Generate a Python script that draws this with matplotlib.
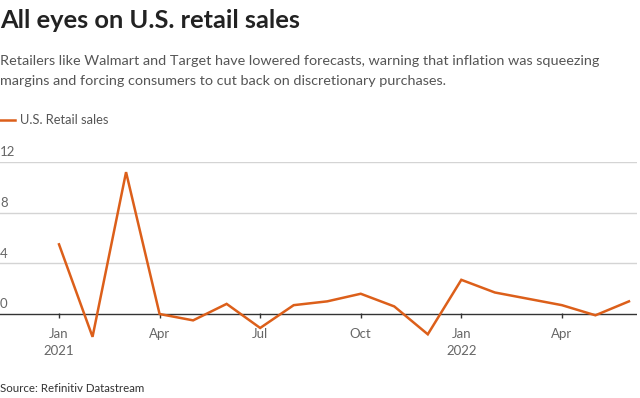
import matplotlib
matplotlib.use("Agg")
import matplotlib.pyplot as plt

months = list(range(18))  # Jan 2021 .. Jun 2022
values = [5.5, -1.8, 11.2, 0.0, -0.5, 0.8, -1.1, 0.7, 1.0, 1.6, 0.6, -1.6,
          2.7, 1.7, 1.2, 0.7, -0.1, 1.0]
tick_pos = [0, 3, 6, 9, 12, 15]
tick_labels = ["Jan\n2021", "Apr", "Jul", "Oct", "Jan\n2022", "Apr"]
y_ticks = [0, 4, 8, 12]

ORANGE = "#dc5f1a"
FONT = "Lato"

fig = plt.figure(figsize=(6.4, 3.98), dpi=100)
ax = fig.add_axes([0, 0.1314, 637/640, 0.4616])
ax.set_xlim(-1.76, 17.24)
ax.set_ylim(-2.5, 12)
for s in ax.spines.values():
    s.set_visible(False)
ax.set_xticks([])
ax.set_yticks([])

for yv in y_ticks:
    if yv != 0:
        ax.axhline(yv, color="#d4d4d4", lw=1, zorder=1)
    ax.text(0, yv + 0.3, str(yv), transform=ax.get_yaxis_transform(),
            ha="left", va="bottom", fontsize=9.5, color="#666666", family=FONT)
ax.axhline(0, color="#333333", lw=1, zorder=2)
ax.vlines(tick_pos, -0.35, 0.05, color="#333333", lw=1, zorder=2)
for p, lab in zip(tick_pos, tick_labels):
    ax.text(p, -1.1, lab, ha="center", va="top", fontsize=9.5,
            color="#666666", family=FONT, linespacing=1.5)

ax.plot(months, values, color=ORANGE, lw=1.8, zorder=3, solid_joinstyle="miter")

fig.text(0.0, 1 - 20/398, "All eyes on U.S. retail sales", fontsize=18.3,
         fontweight="bold", color="#222222", family=FONT, va="center")
fig.text(0.0, 1 - 61/398, "Retailers like Walmart and Target have lowered forecasts, warning that inflation was squeezing",
         fontsize=10.35, color="#555555", family=FONT, va="center")
fig.text(0.0, 1 - 81/398, "margins and forcing consumers to cut back on discretionary purchases.",
         fontsize=10.35, color="#555555", family=FONT, va="center")
fig.lines.append(plt.Line2D([0, 15/640], [1 - 120/398, 1 - 120/398],
                            transform=fig.transFigure, color=ORANGE, lw=1.8))
fig.text(20/640, 1 - 120/398, "U.S. Retail sales", fontsize=9.3, color="#555555",
         family=FONT, va="center")
fig.text(0.0, 1 - 388/398, "Source: Refinitiv Datastream", fontsize=8.3,
         color="#333333", family=FONT, va="center")

fig.savefig("out.png", dpi=100)
